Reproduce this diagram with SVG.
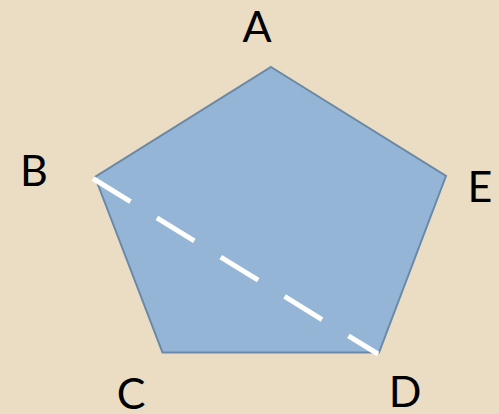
<svg xmlns="http://www.w3.org/2000/svg" width="499" height="414" viewBox="0 0 499 414">
<style>
.lbl{font-family:"Lato","Open Sans","Liberation Sans",sans-serif;font-size:43px;fill:#000;text-anchor:middle}
.shape{fill:#94B5D6;stroke:#6A89A8;stroke-width:2;stroke-linejoin:miter}
.dash{stroke:#FFFFFF;stroke-width:5;stroke-dasharray:44 31;fill:none}
</style>
<rect x="0" y="0" width="499" height="414" fill="#EBDDC3"/>
<g id="pentagon">
<polygon class="shape" points="271,67 446,176 379,352.5 162.5,352.5 95,177"/>
</g>
<g id="connectors">
<line class="dash" x1="93" y1="178.5" x2="378" y2="354"/>
</g>
<g id="A"><text class="lbl" x="257" y="42">A</text></g>
<g id="B"><text class="lbl" x="34" y="186">B</text></g>
<g id="E"><text class="lbl" x="480" y="202">E</text></g>
<g id="C"><text class="lbl" x="131" y="409">C</text></g>
<g id="D"><text class="lbl" x="405" y="407">D</text></g>
</svg>
